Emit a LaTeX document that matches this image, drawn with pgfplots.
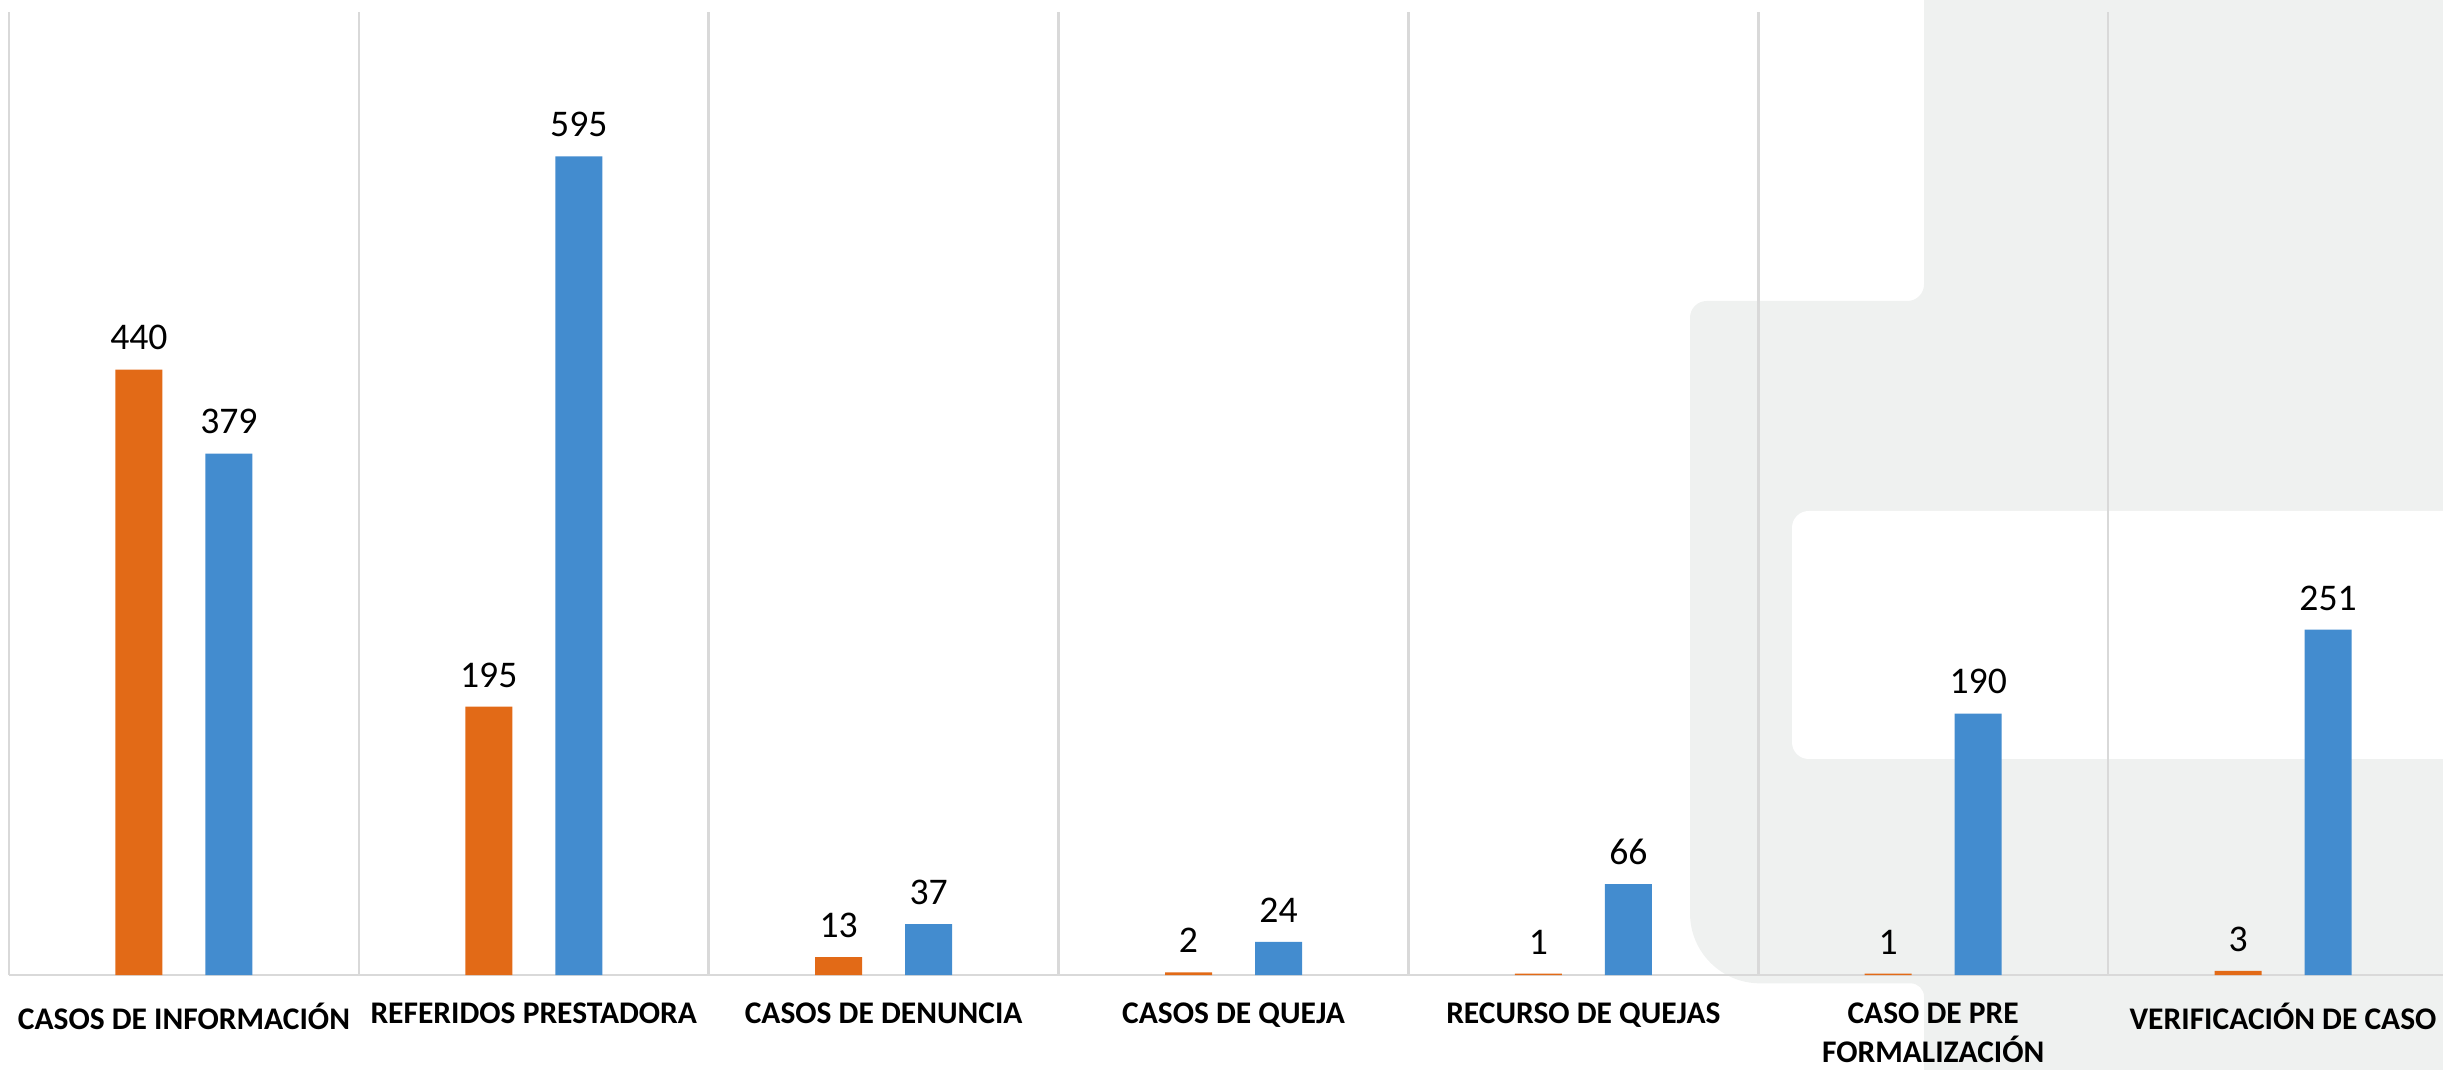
\documentclass[border=0pt]{standalone}
\usepackage{pgfplots}
\pgfplotsset{compat=1.18}
\usepackage{fontspec}
\setmainfont{Carlito}

\definecolor{serA}{RGB}{226,106,23}
\definecolor{serB}{RGB}{67,140,207}
\definecolor{gridgray}{RGB}{217,217,217}
\definecolor{bggray}{RGB}{239,241,240}

\begin{document}
\begin{tikzpicture}
  % page = reference frame (1 px = 0.3pt, origin at the axis' lower left corner)
  \useasboundingbox (-2.7pt,-28.5pt) rectangle (730.2pt,292.5pt);
  \clip (-2.7pt,-28.5pt) rectangle (730.2pt,292.5pt);

  % decorative background shape
  \fill[bggray] (574.5pt,300pt) -- (745pt,300pt) -- (745pt,-35pt) -- (574.5pt,-35pt)
    [rounded corners=4pt] -- (574.5pt,-2.5pt)
    [rounded corners=21pt] -- (504.3pt,-2.5pt)
    [rounded corners=5pt] -- (504.3pt,202.2pt) -- (574.5pt,202.2pt)
    [sharp corners] -- (574.5pt,300pt) -- cycle;
  \fill[white, rounded corners=5pt] (534.9pt,64.8pt) rectangle (760pt,139.2pt);

  \begin{axis}[
      at={(0,0)}, anchor=south west,
      scale only axis,
      width=734.7pt, height=288.9pt,
      xmin=-0.5, xmax=6.5,
      ymin=0, ymax=700,
      ybar=12.9pt,
      bar width=14.1pt,
      axis x line*=bottom,
      axis y line=none,
      x axis line style={gridgray, line width=0.8pt},
      xtick={0,...,6},
      xticklabels={CASOS DE INFORMACIÓN, REFERIDOS PRESTADORA, CASOS DE DENUNCIA,
        CASOS DE QUEJA, RECURSO DE QUEJAS, {CASO DE PRE\\FORMALIZACIÓN}, VERIFICACIÓN DE CASO},
      major tick length=0pt,
      minor tick length=0pt,
      minor xtick={-0.5,0.5,...,6.5},
      xminorgrids,
      minor grid style={gridgray, line width=0.8pt},
      ytick=\empty,
      xticklabel style={font=\fontsize{9.45}{11.6}\selectfont\bfseries, align=center, yshift=-4.8pt},
      /pgf/number format/assume math mode=true,
      nodes near coords,
      every node near coord/.append style={font=\fontsize{11.3}{13}\selectfont, black, yshift=2.3pt},
      clip=false,
    ]

    \addplot[fill=serA, draw=none] coordinates {
        (0,440) (1,195) (2,13) (3,2) (4,1) (5,1) (6,3)
      };

    \addplot[fill=serB, draw=none] coordinates {
        (0,379) (1,595) (2,37) (3,24) (4,66) (5,190) (6,251)
      };

  \end{axis}
\end{tikzpicture}
\end{document}
